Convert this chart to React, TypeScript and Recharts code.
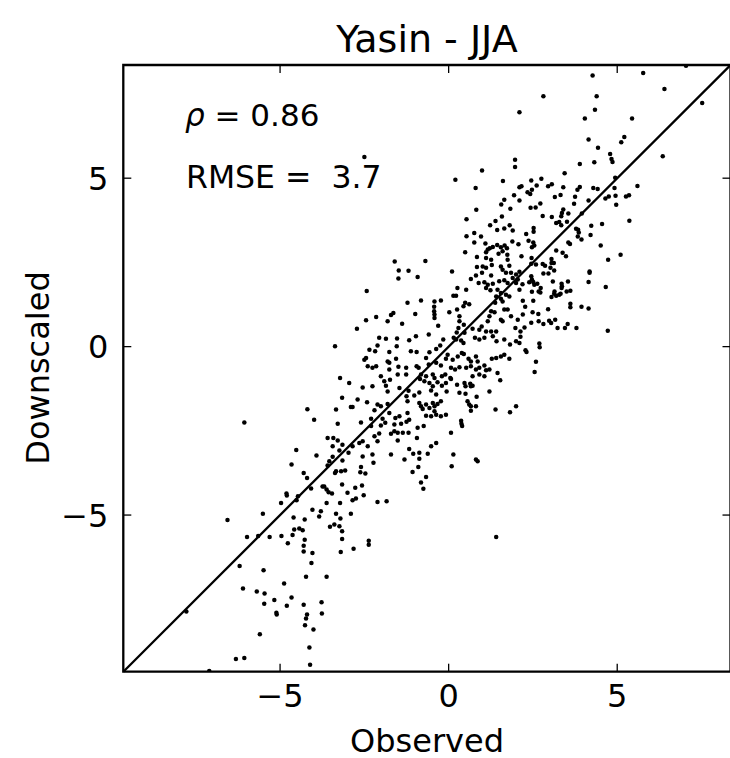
import React from 'react';
import { ScatterChart, Scatter, XAxis, YAxis, ReferenceLine, ReferenceArea } from 'recharts';

const DOMAIN_MIN = -9.65;
const DOMAIN_MAX = 8.36;
const xTicks = [-5, 0, 5];
const yTicks = [-5, 0, 5];
const titleText = 'Yasin - JJA';
const xLabel = 'Observed';
const yLabel = 'Downscaled';
const rhoValue = '0.86';
const rmseValue = '3.7';

// [observed, downscaled]
const upperCentre: [number, number][] = [
  [2.10,6.96],[-2.50,5.63],[0.99,5.23],[1.97,5.55],[1.97,5.33],[0.20,4.95],[1.61,4.92],[0.80,4.71],[2.10,4.73],[2.16,4.76],
  [1.94,4.49],[1.65,4.36],[1.56,4.22],[2.10,4.34],[0.82,4.06],[1.83,4.09],[0.53,3.78],[1.39,3.73],[1.58,3.86],[1.23,3.60],
  [1.81,3.60],[1.65,3.51],[1.90,3.45],[1.44,3.46],[0.53,3.28],[0.76,3.37],[0.96,3.27],[0.76,3.09],[1.09,3.06],[1.22,2.92],
  [1.31,2.96],[1.44,3.02],[1.55,2.95],[1.66,3.00],[1.73,2.92],[1.89,3.12],[2.07,3.04],[0.49,2.80],[0.84,2.66],[1.11,2.80],
  [1.16,2.88],[1.48,2.76],[1.60,2.83],[1.74,2.73],[1.11,2.63],[1.26,2.58],[1.75,2.58],[2.16,2.68],[-1.60,2.53],[-0.69,2.54],
];

const upperRight: [number, number][] = [
  [4.27,8.05],[5.77,8.12],[7.04,8.34],[6.40,7.65],[7.52,7.23],[2.81,7.43],[4.39,7.43],[4.34,7.03],[4.04,6.77],[5.44,6.77],
  [4.15,6.15],[5.21,6.22],[5.12,6.07],[4.43,5.90],[4.79,5.72],[4.83,5.57],[4.86,5.48],[6.35,5.65],[3.89,5.42],[4.32,5.47],
  [3.44,5.15],[4.94,5.01],[5.60,4.77],[2.45,4.93],[2.75,4.98],[2.34,4.58],[2.47,4.66],[2.61,4.78],[2.42,4.53],[2.95,4.76],
  [3.06,4.82],[3.40,4.73],[3.82,4.66],[3.89,4.74],[4.29,4.71],[4.42,4.68],[4.92,4.71],[3.15,4.44],[3.32,4.50],[3.75,4.45],
  [4.15,4.34],[4.65,4.40],[4.75,4.46],[4.95,4.48],[5.26,4.46],[5.35,4.49],[4.97,4.21],[2.72,4.25],[2.58,4.13],[2.43,4.12],
  [3.72,4.24],[3.40,4.07],[3.36,3.97],[3.55,3.95],[3.34,3.87],[3.95,3.95],[2.79,3.88],[3.06,3.85],[5.36,3.74],[3.19,3.67],
  [3.28,3.70],[3.34,3.60],[3.51,3.71],[4.55,3.64],[4.23,3.59],[2.52,3.52],[2.52,3.41],[3.78,3.50],[3.84,3.47],[3.86,3.39],
  [2.30,3.34],[4.21,3.31],[3.83,3.27],[3.94,3.18],[2.37,3.14],[2.51,3.09],[2.54,3.00],[2.47,2.95],[3.55,3.09],[3.60,3.05],
  [4.51,3.00],[3.19,2.85],[3.38,2.79],[3.48,2.68],[2.46,2.63],[3.05,2.60],[3.05,2.48],[3.12,2.48],[4.73,2.58],[5.10,2.73],
  [2.45,2.46],[2.59,2.44],[2.79,2.45],
];

const middleRight: [number, number][] = [
  [2.86,2.40],[3.02,2.34],[3.13,2.26],[4.18,2.23],[4.18,2.19],[2.81,2.17],[2.96,2.17],[2.45,2.09],[2.47,1.99],[2.39,1.91],
  [2.51,1.92],[2.54,1.84],[2.63,1.87],[2.73,1.74],[2.67,1.64],[2.72,1.61],[2.19,1.85],[2.10,1.69],[2.47,1.63],[3.09,1.93],
  [3.35,1.87],[3.36,1.79],[3.35,1.74],[3.54,1.93],[4.15,1.92],[4.66,1.77],[3.14,1.64],[3.13,1.57],[3.05,1.47],[3.19,1.51],
  [3.28,1.54],[3.32,1.57],[3.50,1.64],[3.61,1.66],[2.20,1.36],[2.51,1.36],[3.61,1.27],[3.61,1.17],[3.94,1.18],[4.15,1.13],
  [2.27,1.18],[2.95,1.11],[2.49,1.02],[2.66,0.97],[2.45,0.71],[2.67,0.75],[2.81,0.67],[2.98,0.77],[3.04,0.70],[3.16,0.80],
  [3.53,0.67],[3.45,0.55],[3.23,0.55],[3.79,0.55],[2.25,0.57],[4.72,0.47],[2.13,0.29],[2.10,0.11],[2.28,-0.11],[2.31,-0.16],
  [2.69,0.09],[2.70,-0.02],[2.59,-0.45],[2.55,-0.75],
];

const centre: [number, number][] = [
  [0.84,2.36],[1.01,2.38],[1.11,2.34],[1.28,2.42],[1.55,2.38],[1.60,2.28],[1.80,2.40],[1.70,2.19],[1.85,2.19],[2.00,2.14],
  [2.10,2.22],[2.05,1.99],[1.90,2.04],[-1.48,2.26],[-1.19,2.25],[0.10,2.23],[-1.49,2.02],[-0.92,2.07],[0.66,2.01],[0.81,2.11],
  [0.99,2.19],[1.26,2.11],[0.89,1.89],[1.06,1.91],[1.16,1.84],[1.31,1.87],[1.50,1.94],[1.65,1.97],[1.75,1.89],[1.11,1.74],
  [1.24,1.67],[1.45,1.69],[1.55,1.59],[2.00,1.89],[-2.43,1.65],[0.26,1.74],[0.52,1.69],[0.14,1.51],[0.22,1.51],[1.41,1.49],
  [1.55,1.42],[1.70,1.54],[1.80,1.49],[-1.22,1.30],[-0.82,1.37],[-0.42,1.34],[-0.23,1.37],[0.49,1.30],[0.61,1.26],[0.44,1.20],
  [1.38,1.30],[1.60,1.34],[1.65,1.10],[1.75,1.10],[-0.43,1.18],[-0.43,1.05],[-0.42,0.95],[-0.42,0.85],[0.02,1.02],[0.25,1.10],
  [1.26,1.05],[1.36,1.02],[-1.64,1.00],[-1.71,0.94],[-1.81,0.75],[-0.99,0.97],[-2.15,0.88],[-2.45,0.78],[0.32,0.90],[0.32,0.75],
  [0.45,0.65],[0.29,0.55],[1.21,0.90],[1.16,0.75],[1.55,0.80],[1.60,0.75],[1.85,0.90],[2.05,0.80],[2.20,0.95],[-1.38,0.68],
  [-0.31,0.62],[-2.72,0.53],[0.98,0.60],[0.91,0.50],[0.71,0.53],[1.11,0.45],[1.26,0.45],[1.41,0.45],[1.98,0.55],[2.13,0.45],
  [0.24,0.42],[0.47,0.41],[0.15,0.26],[0.22,0.21],[0.37,0.18],[0.44,0.11],[-0.59,0.36],[-0.97,0.31],[-1.17,0.19],[-2.06,0.26],
  [-1.86,0.23],[-1.53,0.24],[-2.11,0.03],[-2.35,-0.09],[-2.18,-0.14],[-1.54,0.01],[-1.76,-0.16],[0.78,0.26],[0.91,0.21],[1.06,0.26],
  [1.31,0.31],[1.42,0.16],[1.65,0.21],[1.82,0.06],[2.00,0.16],[-0.16,0.21],[-0.25,0.03],[-0.37,-0.07],[-3.37,0.01],[-1.12,-0.14],
  [-0.95,-0.16],[-0.57,-0.17],[0.45,-0.22],[0.39,-0.19],[0.27,-0.29],[0.12,-0.39],[-0.08,-0.36],[-0.03,-0.24],[0.59,-0.36],[0.66,-0.44],
  [0.81,-0.29],[0.86,-0.44],[1.28,-0.36],[1.41,-0.34],[1.55,-0.29],[1.65,-0.24],[1.80,-0.36],[-2.45,-0.34],[-2.50,-0.39],[-2.40,-0.58],
  [-2.26,-0.63],[-2.15,-0.58],[-1.81,-0.44],[-1.76,-0.48],[-1.56,-0.36],[-0.67,-0.34],[-0.37,-0.48],[-0.23,-0.56],[-1.26,-0.63],[-0.95,-0.58],
  [-0.89,-0.63],[-0.59,-0.53],[-1.76,-0.68],[-1.49,-0.60],[0.07,-0.63],[0.19,-0.68],[0.32,-0.61],[0.52,-0.63],[0.66,-0.58],[0.81,-0.68],
  [0.91,-0.63],[1.06,-0.56],[1.11,-0.70],[1.45,-0.78],[1.21,-0.68],[-2.01,-0.88],[-1.51,-0.83],[-1.26,-0.83],[-0.82,-0.83],[-0.67,-0.88],
  [-0.47,-0.83],[-0.42,-0.93],[-0.20,-0.88],[-0.10,-0.83],[0.05,-0.93],[0.07,-0.96],[0.71,-0.88],[0.91,-0.83],[1.06,-0.88],[-3.22,-0.93],
  [-2.95,-1.08],[-1.74,-0.98],[-1.91,-1.03],[-1.86,-1.16],[-1.81,-1.33],[-1.46,-1.23],[-0.85,-0.96],[-0.72,-1.03],[-0.57,-1.08],[-0.33,-1.06],
  [-0.47,-1.18],[-0.20,-1.16],[-0.08,-1.08],[0.25,-1.13],[0.47,-1.08],[0.50,-1.18],[0.64,-1.10],[0.66,-1.18],[0.71,-1.16],[1.53,-1.00],
  [-2.55,-1.21],[-2.26,-1.18],[-1.19,-1.31],[-1.02,-1.45],[-0.87,-1.36],[-1.25,-1.47],[-0.52,-1.30],[-0.37,-1.42],[-0.06,-1.33],[0.32,-1.37],
  [0.50,-1.40],[0.83,-1.49],[1.21,-1.33],[-3.16,-1.52],[-2.70,-1.57],[-2.42,-1.65],[-2.11,-1.72],[-2.01,-1.77],[-1.81,-1.70],[-1.22,-1.62],
  [-0.87,-1.67],[-0.82,-1.77],[-0.67,-1.72],[-0.47,-1.67],[-0.42,-1.77],[-0.33,-1.70],[-0.23,-1.62],[-0.57,-1.82],[0.56,-1.62],[0.61,-1.72],
  [0.66,-1.77],[0.81,-1.77],[2.00,-1.77],[1.82,-1.95],[-2.90,-1.79],[-2.85,-1.79],[-3.34,-1.87],[-2.20,-1.89],[-1.76,-1.97],[-0.77,-1.85],
  [-0.42,-1.92],[-0.67,-2.05],[-0.52,-2.07],[-0.37,-2.02],[-0.23,-2.07],[-0.08,-2.02],[0.66,-1.90],[1.39,-1.87],[-1.22,-1.97],[-1.46,-2.07],
  [-1.17,-2.17],[-1.58,-2.12],[-1.61,-2.31],[-1.41,-2.29],[-1.25,-2.23],[-2.30,-2.14],[-1.96,-2.14],[-1.88,-2.26],[-2.30,-2.36],[-2.60,-2.25],
  [-2.01,-2.34],[-3.29,-2.29],[0.37,-2.20],[0.38,-2.29],[0.40,-2.36],[-0.92,-2.41],[-0.74,-2.36],[-2.06,-2.58],[-1.71,-2.59],[-1.61,-2.51],
  [-1.51,-2.56],[-1.36,-2.56],[-1.19,-2.56],[0.07,-2.56],[-3.59,-2.71],[-3.42,-2.71],[-3.44,-2.96],[-3.29,-2.79],[-3.15,-2.91],[-2.85,-2.96],
  [-2.55,-2.81],[-2.65,-2.86],[-2.20,-2.66],[-2.11,-2.81],[-1.51,-2.79],[-0.94,-2.71],[-0.37,-2.86],[-0.52,-2.96],[-2.40,-2.96],[-1.17,-3.04],
  [-1.05,-3.18],[-0.87,-3.15],[-0.62,-3.18],[-3.24,-3.08],[-2.97,-3.15],[-3.44,-3.27],[-3.15,-3.38],[-3.54,-3.40],[-2.55,-3.26],[-2.26,-3.20],
  [-2.23,-3.45],[-1.71,-3.20],[-1.31,-3.35],[-0.87,-3.33],[0.14,-3.20],[0.81,-3.35],
];

const lowerCentre: [number, number][] = [
  [-3.59,-3.53],[-3.34,-3.70],[-3.37,-3.75],[-3.19,-3.70],[-3.07,-3.68],[-2.60,-3.57],[-2.62,-3.73],[-2.47,-3.77],[-0.90,-3.57],[-1.07,-3.72],
  [-0.67,-3.87],[-0.82,-4.03],[-0.75,-4.22],[0.09,-3.55],[0.86,-3.40],[-3.69,-4.15],[-3.62,-4.24],[-3.56,-4.32],[-3.46,-4.36],[-3.16,-4.09],
  [-3.00,-4.34],[-2.77,-4.19],[-2.57,-4.12],[-2.52,-4.41],[-2.85,-4.56],[-2.75,-4.51],[-2.11,-4.61],[-1.84,-4.59],[-3.62,-4.64],[-3.22,-4.64],
  [-3.79,-4.89],[-3.84,-5.04],[-3.34,-4.96],[-3.21,-5.10],[-2.90,-4.96],[-3.52,-5.35],[-3.39,-5.28],[-3.24,-5.33],[-3.16,-5.48],[-3.16,-5.71],
  [-3.20,-6.10],[-2.82,-6.00],[-2.37,-5.76],[-2.37,-5.88],[1.41,-5.65],[-3.62,-6.83],[-3.77,-7.59],[-3.76,-7.92],
];

const lowerLeft: [number, number][] = [
  [-4.66,-3.50],[-4.30,-3.75],[-4.20,-3.90],[-3.74,-4.15],[-4.08,-4.21],[-4.81,-4.36],[-4.80,-4.42],[-4.47,-4.44],[-4.51,-4.56],[-4.97,-4.64],
  [-5.51,-4.96],[-6.56,-5.15],[-4.04,-4.84],[-4.60,-5.07],[-4.27,-5.13],[-4.58,-5.43],[-4.43,-5.40],[-4.33,-5.45],[-5.98,-5.65],[-5.65,-5.62],
  [-5.31,-5.65],[-4.96,-5.62],[-4.63,-5.59],[-4.77,-5.84],[-4.27,-5.73],[-4.30,-5.91],[-4.30,-6.08],[-4.04,-6.13],[-6.20,-6.51],[-5.49,-6.64],
  [-4.07,-6.42],[-4.23,-6.83],[-4.88,-7.03],[-6.10,-7.18],[-5.69,-7.27],[-5.46,-7.33],[-5.47,-7.63],[-5.17,-7.52],[-4.66,-7.45],[-4.80,-7.69],
  [-4.30,-7.66],[-5.11,-7.90],[-5.10,-7.95],[-4.20,-7.95],[-4.23,-8.07],[-4.26,-8.27],[-4.01,-8.40],[-5.60,-8.54],[-7.78,-7.86],[-4.13,-8.93],
  [-6.31,-9.27],[-6.06,-9.24],[-4.11,-9.44],[-7.10,-9.63],[-6.06,-2.25],[-4.19,-1.86],[-3.99,-2.17],[-4.52,-3.07],[-3.92,-3.23],
];

const points = [...upperCentre, ...upperRight, ...middleRight, ...centre, ...lowerCentre, ...lowerLeft].map(
  ([obs, down]) => ({ obs, down })
);

const W = 733;
const H = 758;
const M = { top: 65, right: 2.5, bottom: 0, left: 0 };
const Y_AXIS_W = 123.3;
const X_AXIS_H = 86.3;
const PLOT_W = W - M.left - M.right - Y_AXIS_W;
const PLOT_H = H - M.top - M.bottom - X_AXIS_H;
const FONT = '"DejaVu Sans", sans-serif';
const TICK_LEN = 8;

const fmt = (v: number) => (v < 0 ? `\u2212${Math.abs(v)}` : `${v}`);

const XTick = (props: any) => {
  const { x, y, payload } = props;
  return (
    <g>
      <line x1={x} y1={y} x2={x} y2={y - TICK_LEN} stroke="#000" strokeWidth={1.3} />
      <line x1={x} y1={y - PLOT_H} x2={x} y2={y - PLOT_H + TICK_LEN} stroke="#000" strokeWidth={1.3} />
      <text x={x} y={y + 35.3} textAnchor="middle" fontSize={32} fontFamily={FONT} fill="#000">
        {fmt(payload.value)}
      </text>
    </g>
  );
};

const YTick = (props: any) => {
  const { x, y, payload } = props;
  return (
    <g>
      <line x1={x} y1={y} x2={x + TICK_LEN} y2={y} stroke="#000" strokeWidth={1.3} />
      <line x1={x + PLOT_W} y1={y} x2={x + PLOT_W - TICK_LEN} y2={y} stroke="#000" strokeWidth={1.3} />
      <text x={x - 15} y={y + 11.5} textAnchor="end" fontSize={32} fontFamily={FONT} fill="#000">
        {fmt(payload.value)}
      </text>
    </g>
  );
};

const Dot = (props: any) => <circle cx={props.cx} cy={props.cy} r={2.25} fill="#000" />;

export default function App() {
  return (
    <div style={{ position: 'fixed', left: 0, top: 0, width: 730, height: 758, overflow: 'hidden', background: '#fff' }}>
      <ScatterChart width={W} height={H} margin={M}>
        <XAxis
          type="number"
          dataKey="obs"
          domain={[DOMAIN_MIN, DOMAIN_MAX]}
          allowDataOverflow
          ticks={xTicks}
          interval={0}
          tickSize={0}
          tickMargin={0}
          axisLine={false}
          tickLine={false}
          tick={<XTick />}
          height={X_AXIS_H}
        />
        <YAxis
          type="number"
          dataKey="down"
          domain={[DOMAIN_MIN, DOMAIN_MAX]}
          allowDataOverflow
          ticks={yTicks}
          interval={0}
          tickSize={0}
          tickMargin={0}
          axisLine={false}
          tickLine={false}
          tick={<YTick />}
          width={Y_AXIS_W}
        />
        <Scatter data={points} shape={<Dot />} isAnimationActive={false} />
        <ReferenceLine
          segment={[{ x: DOMAIN_MIN, y: DOMAIN_MIN }, { x: DOMAIN_MAX, y: DOMAIN_MAX }]}
          stroke="#000"
          strokeWidth={2.3}
        />
        <ReferenceArea
          x1={DOMAIN_MIN}
          x2={DOMAIN_MAX}
          y1={DOMAIN_MIN}
          y2={DOMAIN_MAX}
          fill="none"
          fillOpacity={0}
          stroke="#000"
          strokeWidth={2.3}
          strokeOpacity={1}
        />
        <text x={427} y={52} textAnchor="middle" fontSize={38} fontFamily={FONT} fill="#000">
          {titleText}
        </text>
        <text x={427} y={752} textAnchor="middle" fontSize={32} fontFamily={FONT} fill="#000">
          {xLabel}
        </text>
        <text
          x={49}
          y={368}
          textAnchor="middle"
          fontSize={32}
          fontFamily={FONT}
          fill="#000"
          transform="rotate(-90 49 368)"
        >
          {yLabel}
        </text>
        <text x={185} y={126} fontSize={31} fontFamily={FONT} fill="#000">
          <tspan fontStyle="italic">ρ</tspan>
          <tspan>{` = ${rhoValue}`}</tspan>
        </text>
        <text x={186} y={188} fontSize={31.5} fontFamily={FONT} fill="#000" style={{ whiteSpace: 'pre' }}>
          {`RMSE =  ${rmseValue}`}
        </text>
      </ScatterChart>
    </div>
  );
}
